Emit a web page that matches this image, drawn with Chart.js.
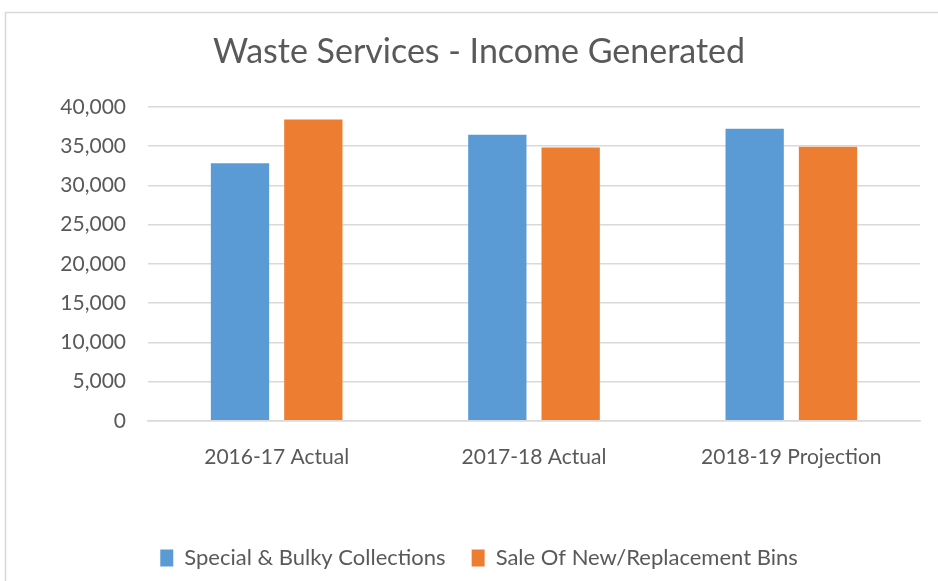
<!DOCTYPE html>
<html>
<head>
<meta charset="utf-8">
<script src="https://cdn.jsdelivr.net/npm/chart.js@4.4.1/dist/chart.umd.min.js"></script>
<style>
  html, body { margin: 0; padding: 0; background: #fff; }
  #wrap { position: relative; width: 938px; height: 581px; }
</style>
</head>
<body>
<div id="wrap"><canvas id="c" width="938" height="581"></canvas></div>
<script>
const categories = ["2016-17 Actual", "2017-18 Actual", "2018-19 Projection"];
const specialBulky = [32800, 36450, 37200];
const binSales = [38380, 34800, 34900];
const seriesNames = ["Special & Bulky Collections", "Sale Of New/Replacement Bins"];
const chartTitle = "Waste Services - Income Generated";

const FONT = "Lato, 'Open Sans', sans-serif";
const TXT = "#595959";

const frame = {
  id: 'frame',
  beforeDraw(chart) {
    const ctx = chart.ctx;
    ctx.save();
    ctx.fillStyle = '#ffffff';
    ctx.fillRect(0, 0, chart.width, chart.height);
    ctx.strokeStyle = '#d9d9d9';
    ctx.lineWidth = 1.5;
    ctx.beginPath();
    ctx.moveTo(5.5, chart.height + 5);
    ctx.lineTo(5.5, 12.5);
    ctx.lineTo(chart.width + 5, 12.5);
    ctx.stroke();
    ctx.restore();
  }
};

new Chart(document.getElementById('c'), {
  type: 'bar',
  data: {
    labels: categories,
    datasets: [
      { label: seriesNames[0], data: specialBulky, backgroundColor: '#5B9BD5', categoryPercentage: 0.57, barPercentage: 0.795 },
      { label: seriesNames[1], data: binSales, backgroundColor: '#ED7D31', categoryPercentage: 0.57, barPercentage: 0.795 }
    ]
  },
  options: {
    responsive: false,
    animation: false,
    devicePixelRatio: 1,
    layout: { padding: { left: 38, right: 18, top: 0, bottom: 2 } },
    plugins: {
      title: {
        display: true,
        text: chartTitle,
        color: TXT,
        font: { family: FONT, size: 34, weight: 'normal' },
        padding: { top: 32, bottom: 34 }
      },
      legend: {
        position: 'bottom',
        labels: {
          color: TXT,
          font: { family: FONT, size: 22 },
          boxWidth: 13,
          boxHeight: 17,
          padding: 26,
          usePointStyle: false
        }
      },
      tooltip: { enabled: false }
    },
    scales: {
      x: {
        afterFit(scale) { scale.height += 27; },
        grid: { display: false, drawTicks: false },
        border: { display: true, color: '#d9d9d9', width: 1.5 },
        ticks: { color: TXT, font: { family: FONT, size: 21 }, padding: 24 }
      },
      y: {
        min: 0, max: 40000,
        afterFit(scale) { scale.width = 110; },
        grid: { color: '#d9d9d9', lineWidth: 1.4, drawTicks: false },
        border: { display: false },
        ticks: {
          stepSize: 5000,
          color: TXT,
          font: { family: FONT, size: 21 },
          padding: 22,
          callback: v => v.toLocaleString('en-US')
        }
      }
    }
  },
  plugins: [frame]
});
</script>
</body>
</html>
